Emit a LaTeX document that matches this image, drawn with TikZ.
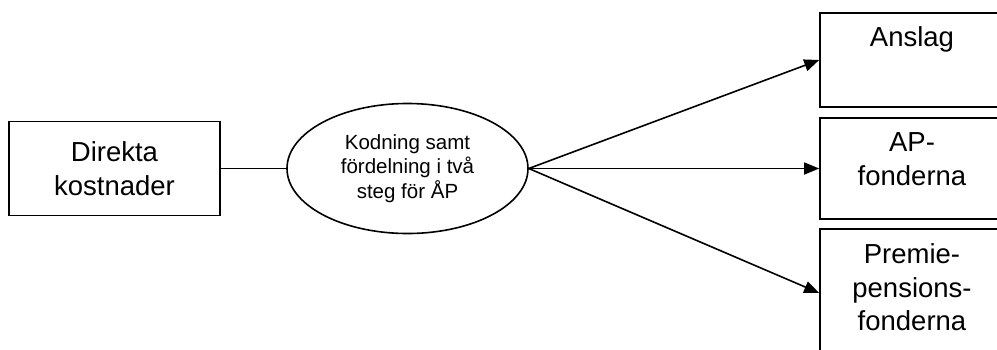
\documentclass[tikz,border=0pt]{standalone}
\usepackage{fontspec}
\setmainfont{Liberation Sans}
\usetikzlibrary{shapes.geometric,arrows.meta}
\begin{document}
\begin{tikzpicture}[x=1pt,y=-1pt,
  box/.style={draw,line width=1.6pt,rectangle,inner sep=0pt},
  bigtext/.style={font=\fontsize{27.5}{33.5}\selectfont,align=center,inner sep=0pt},
  oval/.style={draw,line width=1.6pt,ellipse,inner sep=0pt,minimum width=241pt,minimum height=130pt,
    font=\fontsize{20.5}{24.5}\selectfont,align=center},
  conn/.style={line width=1.6pt},
  arr/.style={line width=1.6pt,-{Triangle[length=15pt,width=12pt]}}]
\clip (0,0) rectangle (997,349);
\fill[white] (0,0) rectangle (997,349);
\node[box,minimum width=211pt,minimum height=94pt] (d) at (114.5,168.5) {};
\node[bigtext] (dt) at (d.center) {Direkta\\kostnader};
\node[oval] (e) at (407.5,168.5) {Kodning samt\\fördelning i två\\steg för ÅP};
\node[box,minimum width=184pt,minimum height=94pt] (a) at (912,60) {};
\node[box,minimum width=184pt,minimum height=101pt] (ap) at (912,168.5) {};
\node[box,minimum width=184pt,minimum height=128pt] (p) at (912,293) {};
\node[bigtext,anchor=north] (at) at ([yshift=-14.5pt]a.north) {Anslag};
\node[bigtext,anchor=north] (apt) at ([yshift=-15.5pt]ap.north) {AP-\\fonderna};
\node[bigtext,anchor=north] (pt) at ([yshift=-15.5pt]p.north) {Premie-\\pensions-\\fonderna};
\draw[conn] (d.east) -- (e.west);
\draw[arr] (e.east) -- (a.west);
\draw[arr] (e.east) -- (ap.west);
\draw[arr] (e.east) -- (p.west);
\end{tikzpicture}
\end{document}
